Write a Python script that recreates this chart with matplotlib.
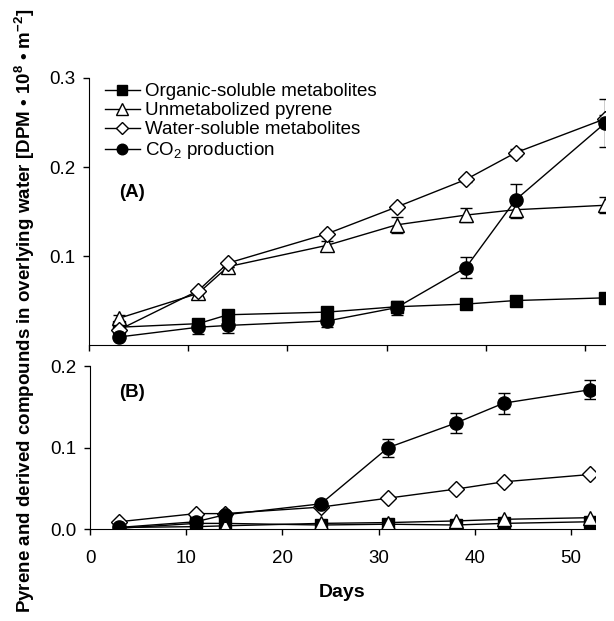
import matplotlib
matplotlib.use('Agg')
import matplotlib.pyplot as plt
from matplotlib.lines import Line2D

plt.rcParams['font.family'] = ['Liberation Sans', 'DejaVu Sans']
plt.rcParams['mathtext.fontset'] = 'custom'
plt.rcParams['mathtext.rm'] = 'Liberation Sans'
plt.rcParams['mathtext.it'] = 'Liberation Sans:italic'
plt.rcParams['mathtext.bf'] = 'Liberation Sans:bold'

days = [3, 11, 14, 24, 31, 38, 43, 52]

# panel A
organic_a = [0.020, 0.024, 0.034, 0.037, 0.043, 0.046, 0.050, 0.053]
organic_a_err = [0, 0, 0, 0, 0, 0, 0, 0]
pyrene_a = [0.030, 0.058, 0.088, 0.112, 0.135, 0.146, 0.152, 0.157]
pyrene_a_err = [0.004, 0, 0, 0.005, 0.009, 0.008, 0.009, 0.009]
water_a = [0.017, 0.061, 0.092, 0.125, 0.155, 0.186, 0.216, 0.254]
water_a_err = [0, 0, 0, 0, 0, 0.003, 0.004, 0.004]
co2_a = [0.009, 0.020, 0.022, 0.027, 0.042, 0.087, 0.163, 0.249]
co2_a_err = [0, 0.008, 0.008, 0.007, 0.008, 0.012, 0.018, 0.027]

# panel B
organic_b = [0.001, 0.007, 0.007, 0.005, 0.006, 0.005, 0.007, 0.009]
pyrene_b = [0.002, 0.003, 0.004, 0.007, 0.008, 0.010, 0.012, 0.014]
water_b = [0.009, 0.019, 0.019, 0.027, 0.038, 0.049, 0.058, 0.067]
co2_b = [0.002, 0.009, 0.0175, 0.031, 0.100, 0.130, 0.1545, 0.171]
co2_b_err = [0, 0, 0, 0.002, 0.011, 0.012, 0.013, 0.012]

labels = ['Organic-soluble metabolites', 'Unmetabolized pyrene',
          'Water-soluble metabolites', 'CO$_2$ production']
markers = ['s', '^', 'D', 'o']
fills = ['k', 'w', 'w', 'k']
sizes = [9, 10, 8, 9.5]

FS = 13.5

fig = plt.figure(figsize=(6.14, 6.21), dpi=100)
ax1 = fig.add_axes([0.145, 0.4444, 0.840, 0.430])
ax2 = fig.add_axes([0.1466, 0.148, 0.8225, 0.2625])


def draw(ax, series, errs):
    for vals, err, m, fc, ms in zip(series, errs, markers, fills, sizes):
        ax.errorbar(days, vals, yerr=err, color='k', lw=1, marker=m, mfc=fc,
                    mec='k', mew=1, ms=ms, capsize=4.5, elinewidth=1,
                    capthick=1)


zero = [0] * len(days)
draw(ax1, [organic_a, pyrene_a, water_a, co2_a],
     [organic_a_err, pyrene_a_err, water_a_err, co2_a_err])
draw(ax2, [organic_b, pyrene_b, water_b, co2_b],
     [zero, zero, zero, co2_b_err])

for ax in (ax1, ax2):
    for s in ('top', 'right'):
        ax.spines[s].set_visible(False)
    ax.tick_params(direction='out', length=4, width=1, labelsize=FS)
    ax.tick_params(axis='x', pad=11)
    ax.tick_params(axis='y', pad=6)
    ax.set_xticks([0, 10, 20, 30, 40, 50])

ax1.set_xlim(0, 52)
ax1.set_ylim(0, 0.3)
ax1.set_yticks([0.1, 0.2, 0.3])
ax1.set_yticklabels(['0.1', '0.2', '0.3'])
ax1.set_xticklabels([])

ax2.set_xlim(0, 52.5)
ax2.set_ylim(0, 0.2)
ax2.set_yticks([0.0, 0.1, 0.2])
ax2.set_yticklabels(['0.0', '0.1', '0.2'])
ax2.set_xlabel('Days', fontsize=14, fontweight='bold', labelpad=12)

ax1.text(3, 0.171, '(A)', fontsize=FS, fontweight='bold', va='center')
ax2.text(3, 0.168, '(B)', fontsize=FS, fontweight='bold', va='center')

handles = [Line2D([], [], color='k', lw=1, marker=m, mfc=fc, mec='k', ms=ms)
           for m, fc, ms in zip(markers, fills, sizes)]
ax1.legend(handles, labels, loc='upper left', bbox_to_anchor=(0.031, 0.98),
           frameon=False, fontsize=FS, handlelength=1.85, handletextpad=0.3,
           labelspacing=0.1, borderpad=0, borderaxespad=0, markerscale=0.8)

fig.text(0.041, 0.5,
         r'Pyrene and derived compounds in overlying water [DPM • 10$^{\mathbf{8}}$ • m$^{\mathbf{-2}}$]',
         rotation=90, ha='center', va='center', fontsize=FS, fontweight='bold')

fig.savefig('out.png', dpi=100)
